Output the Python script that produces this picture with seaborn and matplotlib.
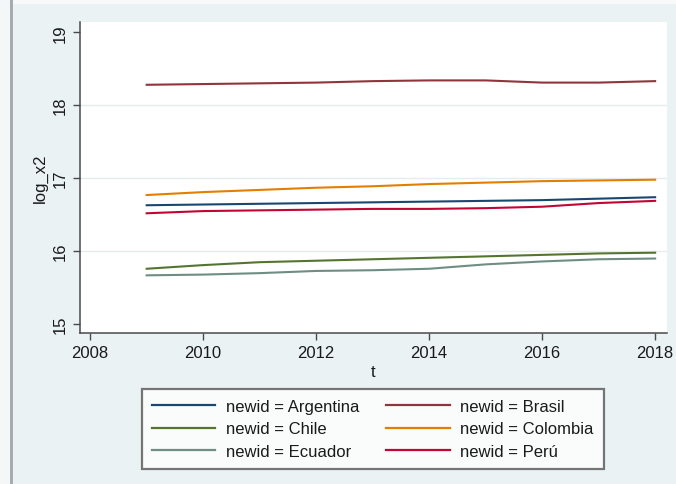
import matplotlib
matplotlib.use("Agg")
import matplotlib.pyplot as plt
import matplotlib.patches as mpatches
import seaborn as sns
import pandas as pd

years = list(range(2009, 2019))
argentina = [16.63, 16.64, 16.65, 16.66, 16.67, 16.68, 16.69, 16.70, 16.72, 16.74]
brasil = [18.28, 18.29, 18.30, 18.31, 18.33, 18.34, 18.34, 18.31, 18.31, 18.33]
chile = [15.76, 15.81, 15.85, 15.87, 15.89, 15.91, 15.93, 15.95, 15.97, 15.98]
colombia = [16.77, 16.81, 16.84, 16.87, 16.89, 16.92, 16.94, 16.96, 16.97, 16.98]
ecuador = [15.67, 15.68, 15.70, 15.73, 15.74, 15.76, 15.82, 15.86, 15.89, 15.90]
peru = [16.52, 16.55, 16.56, 16.57, 16.58, 16.58, 16.59, 16.61, 16.66, 16.69]

countries = ["Argentina", "Brasil", "Chile", "Colombia", "Ecuador", "Perú"]
series = [argentina, brasil, chile, colombia, ecuador, peru]
colors = ["#1a476f", "#90353b", "#55752f", "#e37e00", "#6e8e84", "#c10534"]

x_ticks = [2008, 2010, 2012, 2014, 2016, 2018]
y_ticks = [15, 16, 17, 18, 19]

rows = []
for name, vals in zip(countries, series):
    for yr, v in zip(years, vals):
        rows.append({"t": yr, "log_x2": v, "newid": f"newid = {name}"})
df = pd.DataFrame(rows)
labels = [f"newid = {c}" for c in countries]
palette = dict(zip(labels, colors))

plt.rcParams["font.family"] = ["Liberation Sans", "DejaVu Sans"]

bg = "#eaf2f3"
fig = plt.figure(figsize=(6.76, 4.85), dpi=100, facecolor=bg)
# window frame: light top strip and grey left bar
fig.patches.append(mpatches.Rectangle((0, 1 - 5 / 485), 1, 5 / 485, transform=fig.transFigure,
                                      facecolor="#f7f9fa", edgecolor="none", zorder=0))
fig.patches.append(mpatches.Rectangle((0, 0), 10 / 676, 1, transform=fig.transFigure,
                                      facecolor="#f4f7f8", edgecolor="none", zorder=0))
fig.patches.append(mpatches.Rectangle((10 / 676, 0), 3 / 676, 1, transform=fig.transFigure,
                                      facecolor="#a7abad", edgecolor="none", zorder=0))

ax = fig.add_axes([80 / 676, (485 - 334) / 485, (667 - 80) / 676, (334 - 23) / 485])
ax.set_facecolor("white")

sns.lineplot(data=df, x="t", y="log_x2", hue="newid", hue_order=labels,
             palette=palette, linewidth=1.5, ax=ax, legend=False)

ax.set_xlim(2007.82, 2018.21)
ax.set_ylim(14.88, 19.14)
ax.set_xticks(x_ticks)
ax.set_yticks(y_ticks)
for g in [16, 17, 18]:
    ax.axhline(g, color="#e6ecee", linewidth=1.0, zorder=0)

for s in ["top", "right"]:
    ax.spines[s].set_visible(False)
for s in ["left", "bottom"]:
    ax.spines[s].set_color("#4a4a4a")
    ax.spines[s].set_linewidth(1.1)

ax.tick_params(axis="both", colors="#4a4a4a", length=5, width=1.0, labelsize=12,
               labelcolor="#1a1a1a", direction="out")
for lab in ax.get_yticklabels():
    lab.set_rotation(90)
    lab.set_va("center")
ax.set_xlabel("t", fontsize=12, color="#1a1a1a", labelpad=3)
ax.set_ylabel("log_x2", fontsize=12, color="#1a1a1a", labelpad=4)

handles = []
order = [0, 2, 4, 1, 3, 5]
for i in order:
    handles.append(plt.Line2D([], [], color=colors[i], linewidth=1.6, label=labels[i]))
leg = fig.legend(handles=handles, ncol=2, loc="upper center",
                 bbox_to_anchor=(373 / 676, (485 - 390) / 485),
                 fontsize=12, frameon=True, fancybox=False,
                 handlelength=3.8, handletextpad=0.65, columnspacing=1.6,
                 labelspacing=0.45, borderaxespad=0, borderpad=0.6)
leg.get_frame().set_edgecolor("#555555")
leg.get_frame().set_linewidth(1.6)
leg.get_frame().set_facecolor("white")
for t in leg.get_texts():
    t.set_color("#1a1a1a")

fig.savefig("out.png", dpi=100, facecolor=bg)
